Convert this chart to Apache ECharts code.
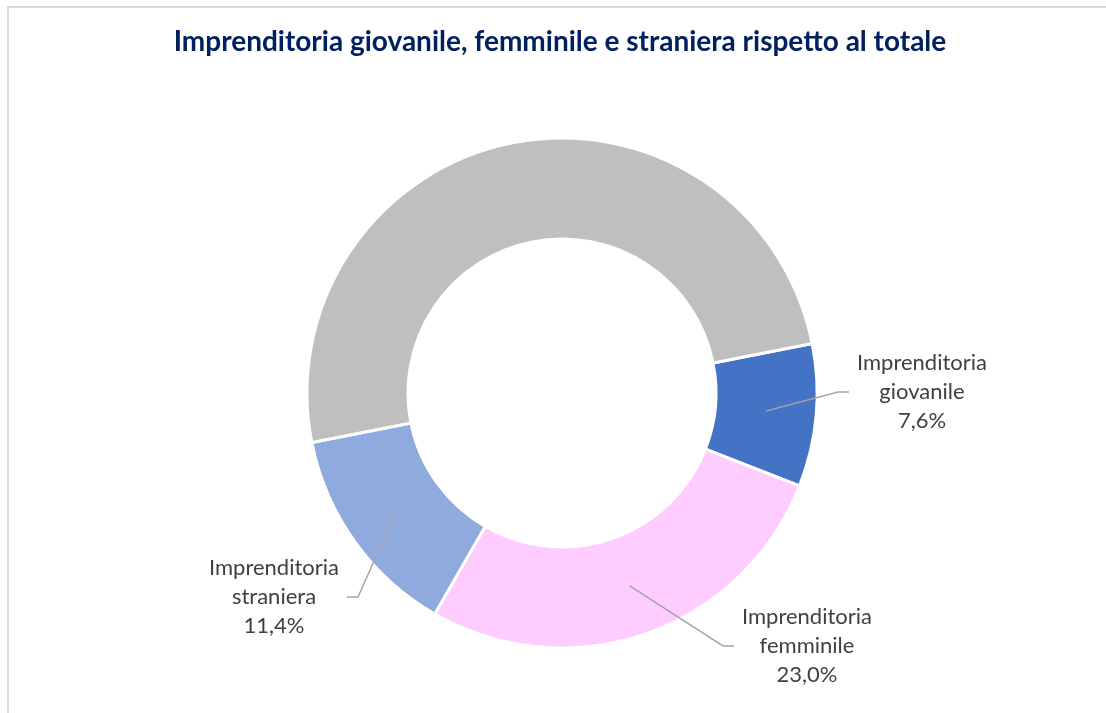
<!DOCTYPE html>
<html>
<head>
<meta charset="utf-8">
<title>Imprenditoria giovanile, femminile e straniera rispetto al totale</title>
<script src="https://cdn.jsdelivr.net/npm/echarts@6/dist/echarts.min.js"></script>
<style>
  html, body { margin: 0; padding: 0; background: #fff; }
  #chart { width: 1106px; height: 713px; }
</style>
</head>
<body>
<div id="chart"></div>
<script>
// dati
var categorie = ["Imprenditoria giovanile", "Imprenditoria femminile", "Imprenditoria straniera", "Totale"];
var valori = [7.6, 23.0, 11.4, 42.0];
var colori = ["#4472c4", "#ffccff", "#8faadc", "#bfbfbf"];

// posizione delle etichette (x, y, allineamento) - solo layout
var posEtichette = [
  [849, 392, "left"],
  [734, 646, "left"],
  [347, 597, "right"]
];

var centro = [562, 393];
var raggi = [154, 255];
var angoloIniziale = 11.2;
var tratto2 = 11;

function fmt(params) {
  var parti = params.name.split(" ");
  var v = params.value.toFixed(1).replace(".", ",") + "%";
  return "{a|" + parti[0] + "}\n{a|" + parti[1] + "}\n{a|" + v + "}";
}

// punto di attacco della linea: a metà anello, sull'angolo medio della fetta
function attacco(idx) {
  var tot = 0, prima = 0;
  valori.forEach(function (v, i) {
    tot += v;
    if (i < idx) prima += v;
  });
  var ang = (angoloIniziale - 360 * (prima + valori[idx] / 2) / tot) * Math.PI / 180;
  var r = (raggi[0] + raggi[1]) / 2;
  return [centro[0] + r * Math.cos(ang), centro[1] - r * Math.sin(ang)];
}

var datiAnello = categorie.map(function (c, i) {
  return { name: c, value: valori[i], itemStyle: { color: colori[i] } };
});

// serie trasparente sopra l'anello, solo per etichette e linee
var datiEtichette = categorie.map(function (c, i) {
  return {
    name: c,
    value: valori[i],
    label: { show: i < 3 },
    labelLine: { show: i < 3 }
  };
});

var myChart = echarts.init(document.getElementById("chart"));
myChart.setOption({
  animation: false,
  title: {
    text: "Imprenditoria giovanile, femminile e straniera rispetto al totale",
    left: 560,
    top: 28,
    textAlign: "center",
    padding: 0,
    textStyle: {
      fontFamily: "Lato",
      fontWeight: "bold",
      fontSize: 28,
      color: "#002060"
    }
  },
  graphic: [
    {
      type: "rect",
      silent: true,
      shape: { x: 8, y: 7, width: 1300, height: 900 },
      style: { fill: "none", stroke: "#d9d9d9", lineWidth: 2 }
    }
  ],
  series: [
    {
      name: "anello",
      type: "pie",
      z: 2,
      center: centro,
      radius: raggi,
      startAngle: angoloIniziale,
      clockwise: true,
      silent: true,
      label: { show: false },
      labelLine: { show: false },
      itemStyle: { borderColor: "#fff", borderWidth: 3 },
      data: datiAnello
    },
    {
      name: "etichette",
      type: "pie",
      z: 5,
      center: centro,
      radius: raggi,
      startAngle: angoloIniziale,
      clockwise: true,
      silent: true,
      itemStyle: { color: "rgba(0,0,0,0)", borderWidth: 0 },
      label: {
        position: "outside",
        formatter: fmt,
        padding: [0, 8],
        rich: {
          a: {
            fontFamily: "Lato",
            fontSize: 22,
            lineHeight: 29,
            color: "#404040",
            align: "center"
          }
        }
      },
      labelLine: {
        length: 20,
        length2: tratto2,
        lineStyle: { color: "#a6a6a6", width: 1.5 }
      },
      labelLayout: function (params) {
        var p = posEtichette[params.dataIndex];
        if (!p) return {};
        var gomito = p[2] === "left" ? p[0] - tratto2 : p[0] + tratto2;
        return {
          x: p[0],
          y: p[1],
          align: p[2],
          verticalAlign: "middle",
          labelLinePoints: [attacco(params.dataIndex), [gomito, p[1]], [p[0], p[1]]]
        };
      },
      data: datiEtichette
    }
  ]
});
window.onresize = function () {
  myChart.resize();
};
</script>
</body>
</html>
